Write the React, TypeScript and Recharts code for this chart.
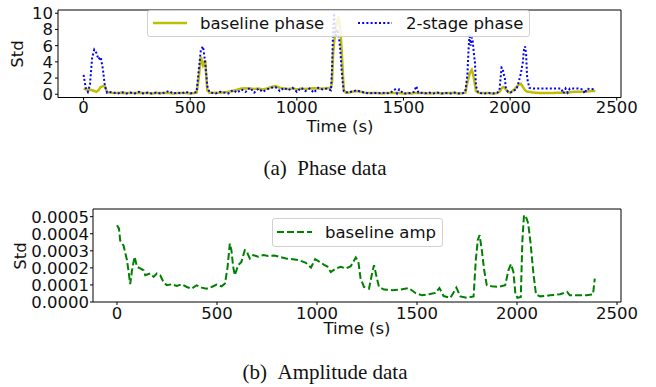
import { LineChart, Line, XAxis, YAxis, ReferenceArea, Legend } from 'recharts';

const FONT = '"DejaVu Sans", sans-serif';
const SERIF = '"Liberation Serif", "Times New Roman", serif';
const FS = 16.5;

const TIME_TICKS = [0, 500, 1000, 1500, 2000, 2500];
const PHASE_TICKS = [0, 2, 4, 6, 8, 10];
const AMP_TICKS = [0, 0.0001, 0.0002, 0.0003, 0.0004, 0.0005];

// phase data (seconds / std)
const phaseTime = [
  0, 10, 20, 30, 40, 50, 60, 70, 80, 90, 100, 110, 120, 140, 160, 180, 200, 220, 240, 260,
  280, 300, 320, 340, 360, 380, 400, 420, 440, 460, 480, 500, 520, 530, 540, 550, 560, 570, 580, 590,
  600, 620, 640, 660, 680, 700, 720, 740, 760, 780, 800, 820, 840, 860, 880, 900, 920, 940, 960, 980,
  1000, 1020, 1040, 1060, 1080, 1100, 1120, 1140, 1160, 1165, 1170, 1175, 1180, 1185, 1190, 1195, 1200, 1205, 1210, 1215,
  1220, 1230, 1240, 1260, 1280, 1300, 1320, 1340, 1360, 1380, 1400, 1420, 1440, 1460, 1470, 1480, 1500, 1520, 1540, 1550,
  1560, 1570, 1580, 1600, 1620, 1640, 1660, 1680, 1700, 1720, 1740, 1760, 1780, 1790, 1800, 1805, 1810, 1815, 1820, 1825,
  1830, 1835, 1840, 1850, 1860, 1880, 1900, 1920, 1940, 1950, 1960, 1965, 1970, 1975, 1980, 1990, 2000, 2010, 2020, 2030,
  2040, 2050, 2060, 2065, 2070, 2075, 2080, 2090, 2100, 2120, 2140, 2160, 2180, 2200, 2220, 2240, 2250, 2260, 2270, 2280,
  2300, 2320, 2340, 2350, 2360, 2380, 2400,
];
const baselinePhase = [
  0.7, 0.6, 0.5, 0.55, 0.5, 0.4, 0.3, 0.5, 0.9, 1.0, 1.0, 0.3, 0.2, 0.15, 0.15, 0.2, 0.15, 0.15, 0.15, 0.2,
  0.15, 0.15, 0.1, 0.15, 0.15, 0.15, 0.15, 0.1, 0.15, 0.15, 0.15, 0.1, 0.15, 0.2, 2.0, 4.6, 3.6, 4.2, 0.5, 0.2,
  0.2, 0.2, 0.2, 0.25, 0.3, 0.4, 0.55, 0.7, 0.75, 0.7, 0.65, 0.7, 0.6, 0.7, 0.9, 1.0, 0.8, 0.7, 0.65, 0.75,
  0.6, 0.7, 0.65, 0.7, 0.75, 0.7, 0.7, 0.7, 0.8, 1.5, 5.0, 6.5, 7.5, 8.5, 9.0, 9.6, 8.8, 7.5, 5.5, 3.0,
  0.5, 0.2, 0.2, 0.3, 0.4, 0.3, 0.2, 0.15, 0.15, 0.15, 0.1, 0.15, 0.15, 0.15, 0.15, 0.15, 0.1, 0.15, 0.1, 0.15,
  0.15, 0.15, 0.15, 0.15, 0.1, 0.15, 0.15, 0.1, 0.15, 0.15, 0.15, 0.1, 0.15, 0.2, 1.5, 2.0, 2.5, 2.8, 3.0, 2.6,
  2.0, 1.2, 0.4, 0.2, 0.15, 0.15, 0.15, 0.1, 0.15, 0.3, 0.7, 0.85, 0.9, 0.8, 0.6, 0.3, 0.2, 0.4, 0.6, 0.9,
  1.2, 1.3, 0.9, 0.7, 0.5, 0.4, 0.3, 0.3, 0.25, 0.2, 0.15, 0.15, 0.15, 0.15, 0.2, 0.2, 0.2, 0.2, 0.2, 0.25,
  0.3, 0.3, 0.3, 0.3, 0.35, 0.4, 0.4,
];
const twoStagePhase = [
  2.4, 0.8, 0.3, 1.2, 4.5, 5.5, 5.1, 4.3, 4.6, 3.2, 1.0, 0.2, 0.3, 0.2, 0.1, 0.25, 0.1, 0.2, 0.1, 0.3,
  0.1, 0.2, 0.1, 0.2, 0.1, 0.2, 0.4, 0.1, 0.2, 0.1, 0.3, 0.1, 0.2, 0.3, 3.0, 5.5, 5.9, 4.0, 1.0, 0.3,
  0.2, 0.1, 0.3, 0.2, 0.1, 0.5, 0.2, 0.6, 0.3, 0.8, 0.2, 0.7, 0.3, 0.6, 0.8, 0.9, 0.4, 0.8, 0.5, 0.8,
  0.3, 0.8, 0.4, 0.7, 0.2, 0.8, 0.6, 0.7, 0.5, 3.0, 8.0, 10.0, 7.0, 7.5, 8.0, 7.2, 6.5, 5.0, 3.0, 1.5,
  0.4, 0.2, 0.3, 0.3, 0.5, 0.3, 0.2, 0.1, 0.2, 0.1, 0.2, 0.1, 0.2, 0.6, 0.1, 0.6, 0.1, 0.1, 0.2, 0.3,
  1.0, 0.2, 0.2, 0.1, 0.2, 0.1, 0.2, 0.1, 0.15, 0.1, 0.2, 0.1, 0.15, 0.3, 2.5, 5.5, 7.4, 6.0, 7.0, 6.5,
  5.0, 4.0, 1.0, 0.2, 0.15, 0.1, 0.15, 0.1, 0.2, 0.5, 3.3, 3.2, 2.5, 2.0, 0.8, 0.3, 0.2, 0.3, 0.5, 0.6,
  1.5, 2.5, 4.0, 5.5, 5.9, 5.0, 2.0, 0.8, 0.7, 0.7, 0.7, 0.7, 0.7, 0.7, 0.7, 0.7, 0.1, 0.7, 0.2, 0.7,
  0.7, 0.7, 0.6, 0.1, 0.7, 0.6, 0.7,
];

// amplitude data
const ampTime = [
  0, 10, 16, 33, 50, 60, 66, 75, 88, 100, 116, 133, 141, 166, 183, 199, 216, 232, 249, 274,
  299, 324, 349, 373, 398, 423, 448, 473, 498, 523, 540, 553, 564, 572, 581, 589, 606, 622, 639, 647,
  664, 681, 706, 731, 756, 787, 812, 845, 879, 911, 945, 970, 991, 1011, 1036, 1052, 1069, 1094, 1119, 1144,
  1169, 1194, 1207, 1218, 1235, 1260, 1277, 1285, 1296, 1310, 1335, 1376, 1418, 1459, 1492, 1526, 1559, 1592, 1612, 1633,
  1667, 1697, 1717, 1750, 1783, 1794, 1804, 1813, 1824, 1836, 1849, 1873, 1906, 1941, 1957, 1970, 1982, 1992, 2002, 2019,
  2027, 2035, 2048, 2056, 2068, 2082, 2095, 2115, 2165, 2215, 2251, 2264, 2297, 2347, 2380, 2389,
];
const baselineAmp = [
  0.00045, 0.00043, 0.00036, 0.00033, 0.000245, 0.00016, 0.000105, 0.000186, 0.000265, 0.000206, 0.000197, 0.000186, 0.000157, 0.000167, 0.000147, 0.000167, 0.000157, 0.000118, 0.000098, 0.000104,
  0.000094, 0.000104, 0.000088, 0.000078, 0.000098, 0.000084, 0.000078, 0.000088, 0.000102, 0.000092, 0.000108, 0.000206, 0.000343, 0.000304, 0.000206, 0.000157, 0.000216, 0.000235, 0.000304, 0.0003,
  0.000255, 0.000275, 0.000265, 0.000275, 0.00027, 0.000272, 0.000265, 0.000255, 0.000251, 0.000245, 0.000229, 0.000202, 0.000251, 0.000237, 0.000218, 0.000208, 0.000176, 0.000196, 0.000206, 0.000196,
  0.00021, 0.000261, 0.000235, 0.000137, 0.000088, 0.000078, 0.000176, 0.000216, 0.000157, 0.000088, 0.000073, 0.000069, 0.000073, 0.000082, 0.000053, 0.000039, 0.000045, 0.000053, 0.000082, 0.000035,
  0.000025, 0.000084, 0.000033, 0.000025, 0.000033, 0.000245, 0.000363, 0.000392, 0.000304, 0.000186, 0.000098, 0.000092, 0.000088, 0.000098, 0.000186, 0.000222, 0.000176, 0.000049, 0.000025, 0.00003,
  0.000363, 0.00051, 0.00049, 0.00046, 0.000343, 0.000167, 0.000045, 0.000033, 0.000039, 0.000045, 0.000059, 0.000039, 0.000039, 0.000039, 0.000045, 0.000137,
];

const phaseData = phaseTime.map((t, i) => ({ t, base: baselinePhase[i], two: twoStagePhase[i] }));
const ampData = ampTime.map((t, i) => ({ t, amp: baselineAmp[i] }));

const tickStyle = { fill: '#111', fontSize: FS, fontFamily: FONT };

function PhaseLegend() {
  return (
    <div style={{ width: 383, height: 27, boxSizing: 'border-box', border: '1px solid #d0d0d0', borderRadius: 3, background: 'rgba(255,255,255,0.85)' }}>
      <svg width={381} height={25} style={{ display: 'block' }}>
        <line x1={5} x2={39} y1={12} y2={12} stroke="#bfbf00" strokeWidth={2.5} />
        <text x={52} y={18} fontSize={FS} fontFamily={FONT} fill="#111">baseline phase</text>
        <line x1={210} x2={244} y1={12} y2={12} stroke="#0000ff" strokeWidth={2} strokeDasharray="2 2.2" />
        <text x={258} y={18} fontSize={FS} fontFamily={FONT} fill="#111">2-stage phase</text>
      </svg>
    </div>
  );
}

function AmpLegend() {
  return (
    <div style={{ width: 171, height: 29, boxSizing: 'border-box', border: '1px solid #d0d0d0', borderRadius: 3, background: 'rgba(255,255,255,0.85)' }}>
      <svg width={169} height={27} style={{ display: 'block' }}>
        <line x1={4} x2={39} y1={13} y2={13} stroke="#008000" strokeWidth={2} strokeDasharray="7 3" />
        <text x={52} y={19} fontSize={FS} fontFamily={FONT} fill="#111">baseline amp</text>
      </svg>
    </div>
  );
}

const abs = (left: number, top: number, extra: object = {}) => ({
  position: 'absolute' as const,
  left,
  top,
  transform: 'translate(-50%, -50%)',
  whiteSpace: 'nowrap' as const,
  lineHeight: 1,
  ...extra,
});

export default function App() {
  return (
    <div style={{ position: 'absolute', left: 0, top: 0, width: 656, height: 387, background: '#fff', overflow: 'hidden' }}>
      <div style={{ position: 'absolute', left: 0, top: 0 }}>
        <LineChart width={656} height={140} data={phaseData} margin={{ top: 10, right: 35, bottom: 0, left: 0 }}>
          <XAxis
            dataKey="t" type="number" domain={[-120, 2520]} allowDataOverflow ticks={TIME_TICKS} interval={0}
            height={42.5} tickSize={3} tickMargin={1} axisLine={false} tickLine={{ stroke: '#000' }} tick={tickStyle}
          />
          <YAxis
            type="number" domain={[-0.4, 10.4]} allowDataOverflow ticks={PHASE_TICKS} interval={0}
            width={58} tickSize={3} tickMargin={2} axisLine={false} tickLine={{ stroke: '#000' }} tick={tickStyle}
          />
          <ReferenceArea x1={-120} x2={2520} y1={-0.4} y2={10.4} fill="none" stroke="#000" strokeWidth={1} ifOverflow="visible" />
          <Line dataKey="base" type="linear" stroke="#bfbf00" strokeWidth={2.5} dot={false} isAnimationActive={false} />
          <Line dataKey="two" type="linear" stroke="#0000ff" strokeWidth={2} strokeDasharray="2 2.2" dot={false} isAnimationActive={false} />
          <Legend layout="horizontal" verticalAlign="middle" align="center" content={<PhaseLegend />}
            wrapperStyle={{ left: 147, top: 10, width: 383, height: 27 }} />
        </LineChart>
      </div>

      <div style={{ position: 'absolute', left: 0, top: 200 }}>
        <LineChart width={656} height={135} data={ampData} margin={{ top: 9, right: 35, bottom: 15, left: 0 }}>
          <XAxis
            dataKey="t" type="number" domain={[-120, 2520]} allowDataOverflow ticks={TIME_TICKS} interval={0}
            height={18} tickSize={3} tickMargin={2} axisLine={false} tickLine={{ stroke: '#000' }} tick={tickStyle}
          />
          <YAxis
            type="number" domain={[0, 0.000545]} allowDataOverflow ticks={AMP_TICKS} interval={0}
            width={93} tickSize={3} tickMargin={1} axisLine={false} tickLine={{ stroke: '#000' }} tick={tickStyle}
            tickFormatter={(v: number) => v.toFixed(4)}
          />
          <ReferenceArea x1={-120} x2={2520} y1={0} y2={0.000545} fill="none" stroke="#000" strokeWidth={1} ifOverflow="visible" />
          <Line dataKey="amp" type="linear" stroke="#008000" strokeWidth={2} strokeDasharray="7 3" dot={false} isAnimationActive={false} />
          <Legend layout="horizontal" verticalAlign="middle" align="center" content={<AmpLegend />}
            wrapperStyle={{ left: 272, top: 18, width: 171, height: 29 }} />
        </LineChart>
      </div>

      <div style={abs(18, 54, { fontFamily: FONT, fontSize: FS, color: '#111', transform: 'translate(-50%, -50%) rotate(-90deg)' })}>Std</div>
      <div style={abs(340, 127, { fontFamily: FONT, fontSize: FS, color: '#111' })}>Time (s)</div>
      <div style={abs(21, 256, { fontFamily: FONT, fontSize: FS, color: '#111', transform: 'translate(-50%, -50%) rotate(-90deg)' })}>Std</div>
      <div style={abs(357, 329, { fontFamily: FONT, fontSize: FS, color: '#111' })}>Time (s)</div>

      <div style={abs(325, 168, { fontFamily: SERIF, fontSize: 21, color: '#111' })}>(a)&#8194;Phase data</div>
      <div style={abs(325, 372, { fontFamily: SERIF, fontSize: 21, color: '#111' })}>(b)&#8194;Amplitude data</div>
    </div>
  );
}
